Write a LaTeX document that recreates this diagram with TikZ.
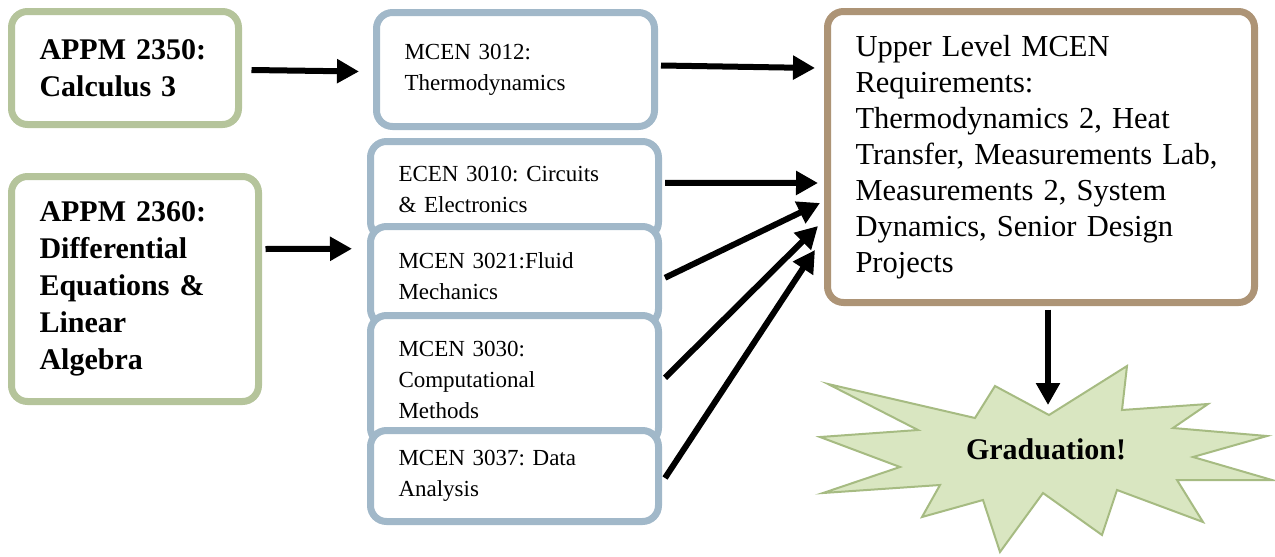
\documentclass[tikz,border=0pt]{standalone}
\usepackage{fontspec}
\setmainfont{Liberation Serif}
\usetikzlibrary{arrows.meta,calc}
\definecolor{sage}{RGB}{181,196,155}
\definecolor{steel}{RGB}{161,184,201}
\definecolor{tan}{RGB}{173,148,118}
\definecolor{starfill}{RGB}{217,230,193}
\definecolor{starline}{RGB}{166,187,130}
\tikzset{
  box/.style={rectangle, rounded corners=16pt, line width=7pt, fill=white, inner xsep=28pt, inner ysep=0pt, align=left},
  gbox/.style={box, draw=sage, font=\fontsize{30}{37}\selectfont\bfseries\frenchspacing},
  bbox/.style={box, draw=steel, font=\fontsize{23}{31}\selectfont\frenchspacing},
  ubox/.style={box, draw=tan, font=\fontsize{30.5}{36}\selectfont\frenchspacing},
  arr/.style={line width=6pt, -{Triangle[length=22pt,width=23pt]}},
}
\begin{document}
\frenchspacing
\begin{tikzpicture}[x=1pt,y=-1pt]
\useasboundingbox (0,0) rectangle (1275,557);
% left boxes
\node[gbox, minimum width=227, minimum height=113, text width=171] (A1) at (125,68)
  {APPM 2350:\\Calculus 3};
\node[gbox, minimum width=247, minimum height=225, text width=191] (A2) at (135,289)
  {APPM 2360:\\Differential\\Equations \&\\Linear\\Algebra};
% middle boxes
\node[bbox, minimum width=278, minimum height=114, text width=222] (M12) at (515.5,69.5)
  {MCEN 3012:\\Thermodynamics};
\node[bbox, minimum width=288, minimum height=96.5, text width=232] (E10) at (514.5,189.75)
  {ECEN 3010: Circuits\\\& Electronics};
\node[bbox, minimum width=288, minimum height=98.5, text width=232] (M21) at (514.5,275.75)
  {MCEN 3021:Fluid\\Mechanics};
\node[bbox, minimum width=288, minimum height=128.5, text width=232] (M30) at (514.5,379.75)
  {MCEN 3030:\\Computational\\Methods};
\node[bbox, minimum width=288, minimum height=91, text width=232] (M37) at (514.5,476)
  {MCEN 3037: Data\\Analysis};
% upper level box
\node[ubox, minimum width=427, minimum height=291, text width=371, inner xsep=27pt] (Up) at (1041,157)
  {Upper Level MCEN\\Requirements:\\Thermodynamics 2, Heat\\Transfer, Measurements Lab,\\Measurements 2, System\\Dynamics, Senior Design\\Projects};
% starburst
\draw[line width=2pt, draw=starline, fill=starfill, line join=miter]
  (1049,415) -- (1127,366) -- (1122,410) -- (1208,404) -- (1173,428) -- (1267,436)
  -- (1193,457) -- (1272,480) -- (1177,480) -- (1203,522) -- (1117,490) -- (1102,535)
  -- (1043,493) -- (1000,552) -- (983,500) -- (922,517) -- (940,485) -- (823,493)
  -- (900,467) -- (820,437) -- (918,430) -- (828,384) -- (975,418) -- (995,386) -- cycle;
\coordinate (gtop) at (1048,405);
\node[font=\fontsize{30}{36}\selectfont\bfseries] (G) at (1046,449) {Graduation!};
% arrows
\coordinate (t0) at (815,68);
\coordinate (t1) at (818,183);
\coordinate (t2) at (820,203);
\coordinate (t3) at (818,226);
\coordinate (t4) at (815,250);
\draw[arr] ($(A1.east)+(9.5,2)$) -- ($(M12.west)+(-14,2)$);
\draw[arr] ($(A2.east)+(3.5,-40)$) -- ($(M21.west)+(-15,-27)$);
\draw[arr] ($(M12.east)+(3,-4)$) -- (t0);
\draw[arr] ($(E10.east)+(3,-7)$) -- (t1);
\draw[arr] ($(M21.east)+(3,2)$) -- (t2);
\draw[arr] ($(M30.east)+(3,-2)$) -- (t3);
\draw[arr] ($(M37.east)+(3,2)$) -- (t4);
\draw[arr] ($(Up.south)+(7,3.5)$) -- (gtop);
\end{tikzpicture}
\end{document}
